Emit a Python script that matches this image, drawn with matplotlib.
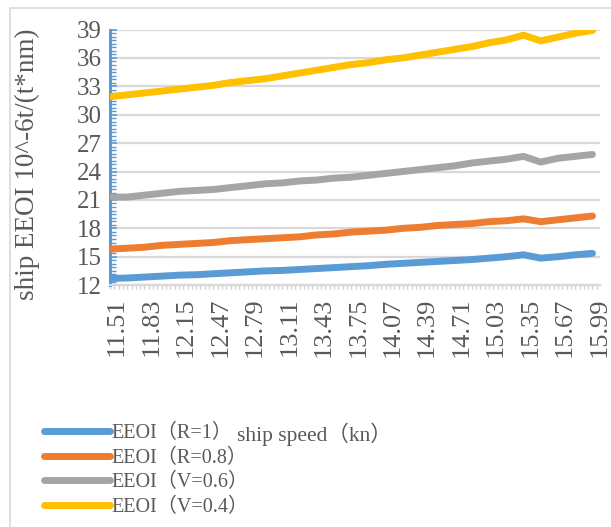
import numpy as np
import matplotlib
matplotlib.use("Agg")
import matplotlib.pyplot as plt
import matplotlib.transforms as mtransforms
from matplotlib.ticker import MultipleLocator, FixedLocator
from matplotlib.patches import Rectangle

# Ship speed (kn), sampled every 0.16 kn
speed = [11.51, 11.67, 11.83, 11.99, 12.15, 12.31, 12.47, 12.63, 12.79, 12.95,
         13.11, 13.27, 13.43, 13.59, 13.75, 13.91, 14.07, 14.23, 14.39, 14.55,
         14.71, 14.87, 15.03, 15.19, 15.35, 15.51, 15.67, 15.83, 15.99]

eeoi_r1 = [12.70, 12.75, 12.85, 12.95, 13.05, 13.10, 13.20, 13.30, 13.40, 13.50,
           13.55, 13.65, 13.75, 13.85, 13.95, 14.05, 14.20, 14.30, 14.40, 14.50,
           14.60, 14.70, 14.85, 15.00, 15.20, 14.85, 15.00, 15.20, 15.35]
eeoi_r08 = [15.8, 15.9, 16.0, 16.2, 16.3, 16.4, 16.5, 16.7, 16.8, 16.9,
            17.0, 17.1, 17.3, 17.4, 17.6, 17.7, 17.8, 18.0, 18.1, 18.3,
            18.4, 18.5, 18.7, 18.8, 19.0, 18.7, 18.9, 19.1, 19.3]
eeoi_v06 = [21.3, 21.3, 21.5, 21.7, 21.9, 22.0, 22.1, 22.3, 22.5, 22.7,
            22.8, 23.0, 23.1, 23.3, 23.4, 23.6, 23.8, 24.0, 24.2, 24.4,
            24.6, 24.9, 25.1, 25.3, 25.6, 25.0, 25.4, 25.6, 25.8]
eeoi_v04 = [31.9, 32.1, 32.3, 32.5, 32.7, 32.9, 33.1, 33.4, 33.6, 33.8,
            34.1, 34.4, 34.7, 35.0, 35.3, 35.5, 35.8, 36.0, 36.3, 36.6,
            36.9, 37.2, 37.6, 37.9, 38.4, 37.8, 38.2, 38.6, 38.9]

series_labels = ["EEOI（R=1）", "EEOI（R=0.8）", "EEOI（V=0.6）", "EEOI（V=0.4）"]
series_colors = ["#5B9BD5", "#ED7D31", "#A5A5A5", "#FFC000"]

x_ticks = [11.51, 11.83, 12.15, 12.47, 12.79, 13.11, 13.43, 13.75,
           14.07, 14.39, 14.71, 15.03, 15.35, 15.67, 15.99]
x_tick_labels = ["11.51", "11.83", "12.15", "12.47", "12.79", "13.11", "13.43", "13.75",
                 "14.07", "14.39", "14.71", "15.03", "15.35", "15.67", "15.99"]
y_ticks = [12, 15, 18, 21, 24, 27, 30, 33, 36, 39]

FONT = ["Liberation Serif", "Noto Sans CJK SC", "DejaVu Sans"]
plt.rcParams["font.family"] = FONT
plt.rcParams["text.color"] = "#595959"

fig = plt.figure(figsize=(6.11, 5.27), dpi=100)
fig.patch.set_facecolor("white")

# chart-area frame
fig.patches.append(Rectangle((10 / 611, -0.05), 1.2, 1 - 8 / 527 + 0.05,
                             transform=fig.transFigure, fill=False,
                             edgecolor="#d9d9d9", linewidth=1.2))

ax = fig.add_axes([0.180, 0.459, 0.802, 0.485])

for vals, lab, col in zip([eeoi_r1, eeoi_r08, eeoi_v06, eeoi_v04], series_labels, series_colors):
    ax.plot(speed, vals, color=col, linewidth=5.0, label=lab,
            solid_capstyle="round", solid_joinstyle="round", zorder=3)

ax.set_xlim(11.51, 16.06)
ax.set_ylim(12, 39)

ax.yaxis.set_major_locator(FixedLocator(y_ticks))
ax.yaxis.set_minor_locator(MultipleLocator(0.375))
ax.set_yticklabels([str(v) for v in y_ticks])
ax.xaxis.set_major_locator(FixedLocator(x_ticks))
ax.xaxis.set_minor_locator(FixedLocator(list(np.arange(11.51, 16.06, 0.04))))
ax.set_xticklabels(x_tick_labels, rotation=90)

ax.grid(axis="y", color="#d9d9d9", linewidth=1.6, zorder=0)
ax.set_axisbelow(True)

for s in ["top", "right"]:
    ax.spines[s].set_visible(False)
ax.spines["left"].set_color("#5B9BD5")
ax.spines["left"].set_linewidth(2.2)
ax.spines["bottom"].set_color("#d9d9d9")
ax.spines["bottom"].set_linewidth(1.6)

ax.tick_params(axis="y", which="major", direction="in", length=5, width=1.2,
               color="#5B9BD5", labelsize=18, labelcolor="#595959", pad=6)
ax.tick_params(axis="y", which="minor", direction="in", length=4, width=1.0,
               color="#5B9BD5")
ax.tick_params(axis="x", which="both", direction="out", length=3, width=1.0,
               color="#d0d0d0", labelsize=19, labelcolor="#595959", pad=6)

# category labels sit slightly right of their tick marks
shift = mtransforms.ScaledTranslation(7 / 100, 0, fig.dpi_scale_trans)
for lbl in ax.get_xticklabels():
    lbl.set_transform(lbl.get_transform() + shift)

ax.set_ylabel("ship EEOI 10^-6t/(t*nm)", fontsize=19.5, color="#595959")
ax.yaxis.set_label_coords(-0.143, 0.473)

ax.set_xlabel("ship speed（kn）", fontsize=15.5, color="#595959")
ax.xaxis.set_label_coords(0.418, -0.583)
ax.xaxis.label.set_verticalalignment("center")

leg = ax.legend(loc="upper left", bbox_to_anchor=(0.072, 0.196),
                bbox_transform=fig.transFigure, frameon=False,
                fontsize=14.5, handlelength=3.3, handletextpad=0.05,
                labelspacing=0.28, borderpad=0, borderaxespad=0)
for t in leg.get_texts():
    t.set_color("#595959")

fig.savefig("out.png", dpi=100, facecolor="white")
